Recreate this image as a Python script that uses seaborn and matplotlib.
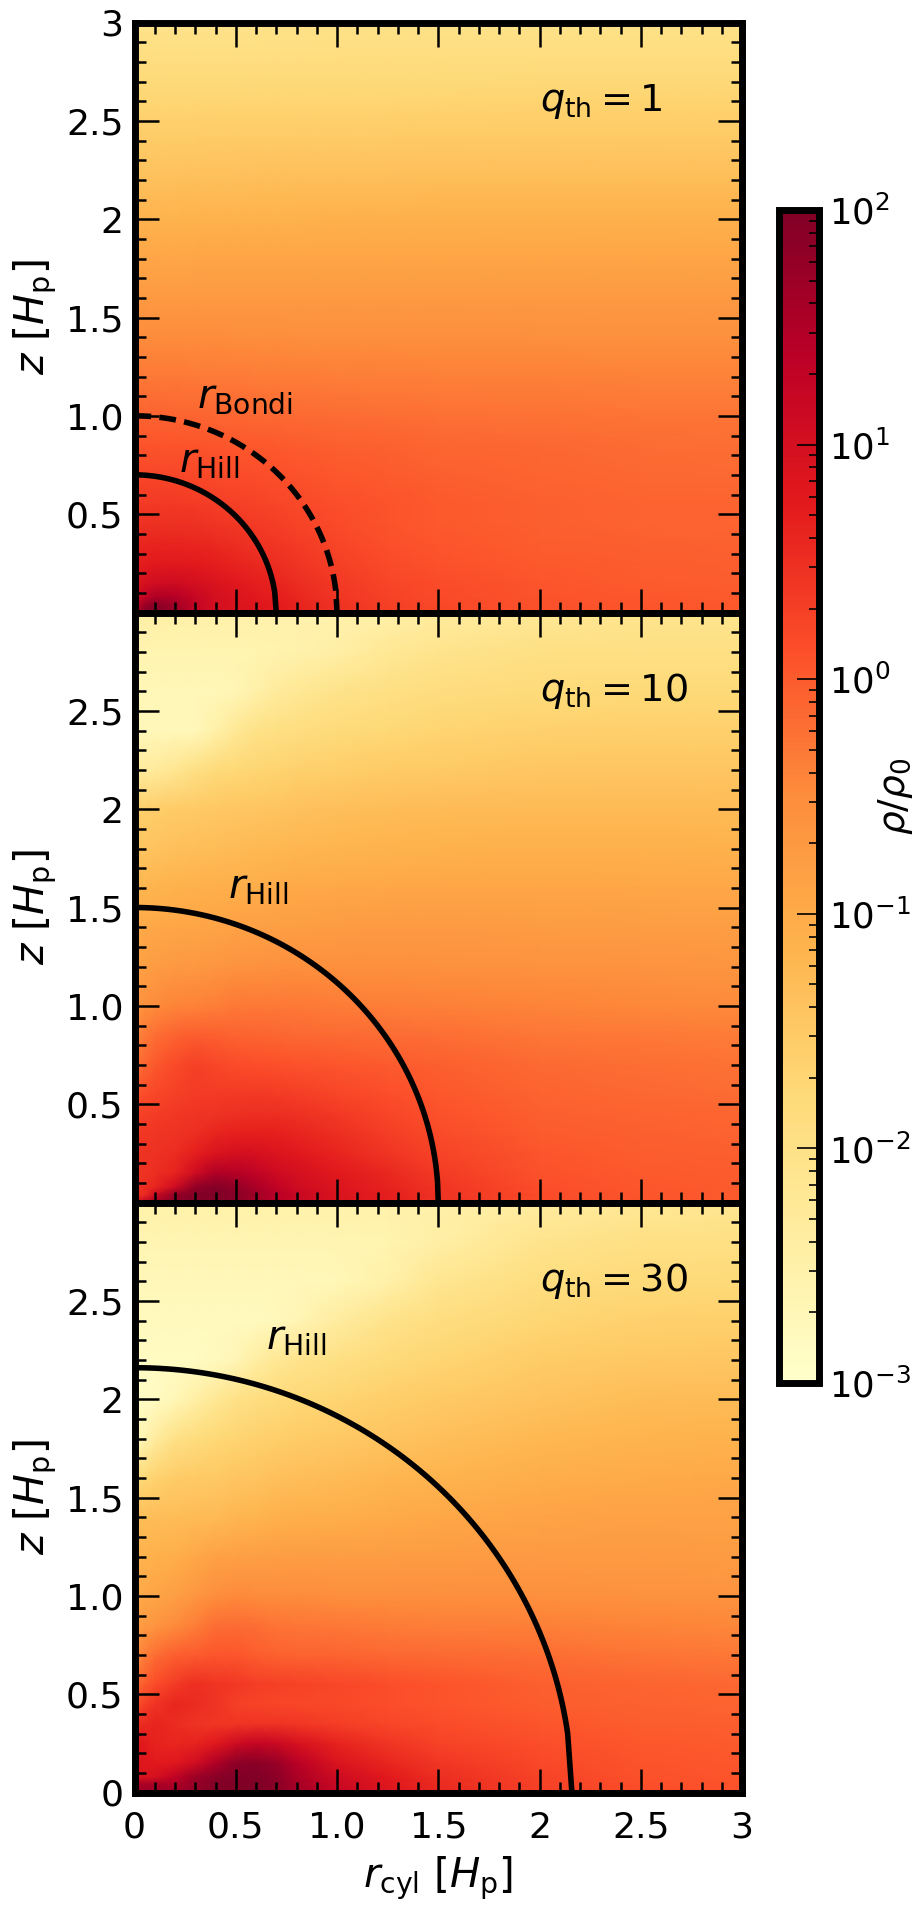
"""
Gas density around an embedded planet, three thermal mass ratios stacked,
shared log colorbar on the right.
"""

import numpy as np
import matplotlib
matplotlib.use("Agg")
import matplotlib.pyplot as plt
import seaborn as sns

# sampling of the density maps, values below are log10(rho/rho0)
r_grid = [0, .05, .1, .2, .3, .4, .5, .6, .7, .8, 1.0, 1.25, 1.5, 2.0, 2.5, 3.0]
z_grid = [0, .04, .08, .15, .25, .35, .45, .55, .7, .85, 1.0, 1.2, 1.4, 1.6, 1.8,
          2.0, 2.2, 2.4, 2.6, 2.8, 3.0]

log_rho_q1 = [
    [1.3, 1.9, 2.0, 1.7, 1.25, 1.0, .9, .82, .75, .65, .45, .3, .2, .1, .05, .02],
    [1.2, 1.7, 1.9, 1.65, 1.25, 1.0, .9, .82, .75, .65, .45, .3, .2, .1, .05, .02],
    [1.0, 1.25, 1.5, 1.45, 1.2, 1.0, .88, .78, .7, .6, .4, .27, .18, .08, .03, 0],
    [.85, .95, 1.05, 1.1, 1.0, .9, .8, .7, .62, .53, .36, .24, .15, .05, 0, -.02],
    [.7, .72, .75, .78, .76, .7, .63, .57, .5, .43, .3, .18, .1, .02, -.02, -.05],
    [.6, .6, .62, .62, .6, .56, .5, .45, .4, .34, .24, .12, .05, -.02, -.05, -.07],
    [.47, .47, .48, .48, .46, .43, .38, .35, .31, .26, .18, .08, .02, -.04, -.08, -.1],
    [.37, .37, .37, .37, .35, .32, .3, .27, .24, .2, .14, .07, .02, -.04, -.08, -.1],
    [.22, .22, .22, .21, .2, .18, .16, .14, .12, .09, .04, -.01, -.04, -.09, -.13, -.15],
    [.08, .08, .08, .08, .07, .06, .04, .03, .01, -.01, -.04, -.07, -.11, -.14, -.18, -.2],
    [-.08, -.08, -.08, -.09, -.1, -.11, -.12, -.13, -.14, -.15, -.17, -.19, -.21, -.23, -.25, -.26],
    [-.29, -.29, -.3, -.3, -.31, -.31, -.32, -.33, -.33, -.34, -.35, -.36, -.37, -.38, -.39, -.4],
    [-.49, -.49, -.49, -.5, -.5, -.5, -.51, -.51, -.51, -.52, -.52, -.53, -.53, -.54, -.55, -.55],
    [-.7, -.7, -.7, -.7, -.7, -.7, -.7, -.7, -.7, -.7, -.7, -.7, -.7, -.71, -.71, -.71],
    [-.92, -.92, -.92, -.92, -.92, -.91, -.91, -.91, -.91, -.9, -.9, -.9, -.9, -.9, -.9, -.9],
    [-1.13, -1.13, -1.13, -1.13, -1.12, -1.12, -1.12, -1.11, -1.11, -1.11, -1.1, -1.1, -1.09, -1.09, -1.09, -1.09],
    [-1.34, -1.34, -1.34, -1.34, -1.33, -1.33, -1.33, -1.32, -1.32, -1.32, -1.31, -1.31, -1.3, -1.3, -1.3, -1.3],
    [-1.52, -1.52, -1.52, -1.52, -1.52, -1.51, -1.51, -1.51, -1.5, -1.5, -1.5, -1.5, -1.49, -1.49, -1.49, -1.49],
    [-1.7, -1.7, -1.7, -1.7, -1.7, -1.7, -1.7, -1.69, -1.69, -1.69, -1.68, -1.68, -1.68, -1.67, -1.67, -1.67],
    [-1.88, -1.88, -1.88, -1.88, -1.88, -1.88, -1.87, -1.87, -1.87, -1.87, -1.86, -1.86, -1.86, -1.85, -1.85, -1.85],
    [-2.05, -2.05, -2.05, -2.05, -2.05, -2.05, -2.05, -2.05, -2.04, -2.04, -2.04, -2.03, -2.03, -2.03, -2.02, -2.02],
]

log_rho_q10 = [
    [.8, 1.3, 1.6, 1.85, 1.95, 1.95, 1.85, 1.6, 1.35, 1.15, .9, .7, .45, .15, .05, 0],
    [.45, .55, 1.1, 1.8, 1.95, 2.0, 1.9, 1.65, 1.4, 1.2, .9, .7, .45, .15, .05, 0],
    [.45, .5, .6, 1.1, 1.8, 1.95, 1.8, 1.55, 1.3, 1.1, .85, .65, .42, .13, .04, 0],
    [.45, .45, .5, .65, 1.1, 1.5, 1.45, 1.3, 1.12, 1.0, .78, .58, .35, .1, .02, -.02],
    [.42, .44, .46, .52, .7, .9, 1.0, .95, .88, .8, .62, .42, .25, .05, -.02, -.05],
    [.38, .4, .42, .45, .5, .62, .68, .7, .68, .62, .5, .32, .18, 0, -.05, -.08],
    [.25, .3, .33, .38, .42, .45, .48, .5, .5, .46, .36, .24, .1, -.04, -.08, -.12],
    [.05, .15, .22, .3, .35, .35, .36, .36, .35, .32, .24, .14, .04, -.08, -.13, -.17],
    [-.25, -.1, .02, .18, .3, .22, .16, .14, .12, .1, .05, 0, -.05, -.16, -.2, -.24],
    [-.45, -.3, -.2, -.08, -.03, -.05, -.08, -.1, -.12, -.13, -.15, -.17, -.2, -.27, -.3, -.33],
    [-.68, -.55, -.5, -.42, -.4, -.35, -.3, -.3, -.3, -.3, -.33, -.35, -.37, -.42, -.45, -.47],
    [-.85, -.8, -.75, -.7, -.68, -.65, -.6, -.58, -.56, -.55, -.55, -.55, -.56, -.58, -.6, -.62],
    [-1.0, -.98, -.95, -.92, -.9, -.88, -.85, -.83, -.8, -.78, -.75, -.73, -.73, -.74, -.76, -.78],
    [-1.2, -1.18, -1.16, -1.12, -1.1, -1.08, -1.05, -1.03, -1.0, -.98, -.96, -.93, -.92, -.92, -.93, -.95],
    [-1.42, -1.4, -1.38, -1.34, -1.32, -1.3, -1.27, -1.24, -1.22, -1.2, -1.17, -1.14, -1.12, -1.1, -1.1, -1.11],
    [-1.6, -1.58, -1.56, -1.53, -1.5, -1.47, -1.44, -1.42, -1.4, -1.37, -1.33, -1.3, -1.27, -1.25, -1.25, -1.27],
    [-2.3, -2.3, -2.3, -2.15, -1.95, -1.8, -1.74, -1.7, -1.66, -1.62, -1.58, -1.52, -1.5, -1.45, -1.43, -1.43],
    [-2.72, -2.72, -2.72, -2.72, -2.72, -2.5, -2.2, -2.02, -1.95, -1.9, -1.8, -1.75, -1.68, -1.62, -1.6, -1.6],
    [-2.7, -2.7, -2.7, -2.7, -2.7, -2.7, -2.65, -2.5, -2.3, -2.2, -2.05, -1.95, -1.88, -1.8, -1.77, -1.77],
    [-2.6, -2.6, -2.6, -2.6, -2.6, -2.6, -2.6, -2.6, -2.58, -2.55, -2.45, -2.2, -2.1, -1.98, -1.95, -1.95],
    [-2.45, -2.45, -2.45, -2.47, -2.48, -2.5, -2.5, -2.52, -2.53, -2.55, -2.55, -2.5, -2.35, -2.2, -2.12, -2.1],
]

log_rho_q30 = [
    [1.55, 1.6, 1.65, 1.7, 1.75, 1.95, 2.0, 2.0, 1.9, 1.6, 1.2, .85, .6, .3, .15, .1],
    [1.55, 1.6, 1.6, 1.5, 1.75, 1.95, 2.0, 2.0, 1.9, 1.6, 1.15, .8, .55, .28, .12, .08],
    [.9, .9, .95, 1.3, 1.7, 1.9, 1.98, 1.98, 1.85, 1.55, 1.1, .75, .5, .25, .1, .06],
    [.85, .8, .75, .8, 1.05, 1.5, 1.85, 1.9, 1.75, 1.4, .9, .6, .4, .2, .08, .03],
    [.8, .75, .65, .6, .65, .8, 1.1, 1.25, 1.15, .95, .65, .42, .28, .13, .04, 0],
    [.5, .55, .62, .55, .45, .4, .42, .45, .45, .4, .32, .22, .15, .05, -.02, -.05],
    [.1, .3, .45, .6, .55, .45, .3, .25, .22, .22, .2, .13, .07, -.02, -.07, -.1],
    [-.2, 0, .15, .35, .5, .42, .38, .32, .3, .28, .22, .14, .08, -.04, -.1, -.14],
    [-.55, -.35, -.2, -.05, 0, .05, .05, -.02, -.06, -.08, -.1, -.13, -.15, -.2, -.25, -.3],
    [-.85, -.7, -.65, -.5, -.35, -.2, -.17, -.2, -.25, -.28, -.3, -.33, -.35, -.38, -.42, -.45],
    [-1.0, -.95, -.9, -.8, -.65, -.52, -.48, -.5, -.5, -.5, -.52, -.53, -.53, -.55, -.58, -.6],
    [-1.15, -1.12, -1.1, -1.05, -.95, -.85, -.82, -.8, -.78, -.76, -.76, -.76, -.75, -.72, -.72, -.74],
    [-1.3, -1.3, -1.3, -1.3, -1.28, -1.25, -1.2, -1.15, -1.1, -1.08, -1.05, -1.0, -.95, -.88, -.85, -.85],
    [-1.85, -1.75, -1.65, -1.55, -1.5, -1.48, -1.43, -1.4, -1.35, -1.32, -1.27, -1.2, -1.15, -1.05, -1.0, -.98],
    [-2.8, -2.6, -2.35, -2.0, -1.85, -1.75, -1.68, -1.62, -1.58, -1.55, -1.48, -1.4, -1.33, -1.22, -1.15, -1.12],
    [-2.9, -2.9, -2.85, -2.7, -2.45, -2.2, -2.0, -1.9, -1.82, -1.76, -1.68, -1.58, -1.5, -1.38, -1.3, -1.28],
    [-2.85, -2.85, -2.85, -2.85, -2.85, -2.8, -2.65, -2.4, -2.2, -2.1, -1.95, -1.8, -1.7, -1.55, -1.47, -1.45],
    [-2.8, -2.8, -2.8, -2.8, -2.8, -2.8, -2.8, -2.8, -2.75, -2.65, -2.35, -2.05, -1.9, -1.72, -1.62, -1.6],
    [-2.72, -2.72, -2.72, -2.72, -2.72, -2.72, -2.72, -2.72, -2.72, -2.72, -2.7, -2.5, -2.15, -1.9, -1.8, -1.78],
    [-2.62, -2.62, -2.62, -2.62, -2.62, -2.62, -2.62, -2.62, -2.62, -2.62, -2.62, -2.6, -2.45, -2.1, -1.98, -1.95],
    [-2.5, -2.5, -2.5, -2.5, -2.5, -2.5, -2.5, -2.5, -2.5, -2.52, -2.52, -2.52, -2.5, -2.35, -2.2, -2.15],
]

panel_fields = [log_rho_q1, log_rho_q10, log_rho_q30]
panel_labels = [r"$q_{\rm th} = 1$", r"$q_{\rm th} = 10$", r"$q_{\rm th} = 30$"]

# radii of the marked spheres, the height where the last line segment starts
hill_radius = [0.7, 1.5, 2.16]
bondi_radius = 1.0
kink_height = [0.1, 0.1, 0.3]

x_ticks = [0, .5, 1, 1.5, 2, 2.5, 3]
x_ticklabels = ["0", "0.5", "1.0", "1.5", "2", "2.5", "3"]
y_ticks = [[.5, 1, 1.5, 2, 2.5, 3], [.5, 1, 1.5, 2, 2.5], [0, .5, 1, 1.5, 2, 2.5]]
y_ticklabels = [["0.5", "1.0", "1.5", "2", "2.5", "3"],
                ["0.5", "1.0", "1.5", "2", "2.5"],
                ["0", "0.5", "1.0", "1.5", "2", "2.5"]]
minor_ticks = [.1, .2, .3, .4, .6, .7, .8, .9, 1.1, 1.2, 1.3, 1.4, 1.6, 1.7, 1.8, 1.9,
               2.1, 2.2, 2.3, 2.4, 2.6, 2.7, 2.8, 2.9]

cbar_exponents = [-3, -2, -1, 0, 1, 2]

W, H = 914, 1909
SPINE = 5.0


def quarter_circle(radius, kink):
    # arc from the z axis down, closed by one straight piece to the midplane
    end = np.arcsin(kink / radius)
    theta = np.append(np.linspace(np.pi / 2, end, 120), 0)
    return radius * np.cos(theta), radius * np.sin(theta)


sns.set_style("white")
plt.rcParams["font.family"] = ["DejaVu Sans"]
plt.rcParams["mathtext.fontset"] = "dejavusans"
plt.rcParams["font.size"] = 26
for key in ["text.color", "axes.labelcolor", "xtick.color", "ytick.color"]:
    plt.rcParams[key] = "black"

fig = plt.figure(figsize=(W / 100, H / 100), dpi=100)
cax = fig.add_axes([779 / W, 1 - 1383 / H, 40 / W, 1173 / H])
cbar = None

for i, field in enumerate(panel_fields):
    top = 22.5 + i * 590
    ax = fig.add_axes([134.5 / W, 1 - (top + 590) / H, 607.5 / W, 590 / H])
    sns.heatmap(
        np.array(field),
        ax=ax,
        cmap="YlOrRd",
        vmin=-3,
        vmax=2,
        shading="gouraud",
        xticklabels=False,
        yticklabels=False,
        cbar=i == 0,
        cbar_ax=cax if i == 0 else None,
    )
    mesh = ax.collections[0]
    if i == 0:
        cbar = mesh.colorbar
    # the grid is not uniform, so put the nodes at their real positions
    mesh._coordinates = np.stack(np.meshgrid(r_grid, z_grid), axis=-1)
    ax.set_xlim(0, 3)
    ax.set_ylim(0, 3)
    ax.set_axisbelow(False)

    ax.set_xticks(x_ticks)
    ax.set_xticklabels(x_ticklabels if i == 2 else [])
    ax.set_yticks(y_ticks[i])
    ax.set_yticklabels(y_ticklabels[i], rotation=0)
    ax.set_xticks(minor_ticks, minor=True)
    ax.set_yticks(minor_ticks, minor=True)
    ax.tick_params(which="major", direction="in", length=17, width=1.8, top=True, right=True,
                   bottom=True, left=True, labelsize=26, pad=8, color="black")
    ax.tick_params(which="minor", direction="in", length=8, width=1.8, top=True, right=True,
                   bottom=True, left=True, color="black")
    ax.tick_params(axis="x", which="major", pad=13)
    for spine in ax.spines.values():
        spine.set_visible(True)
        spine.set_linewidth(SPINE)
        spine.set_color("black")

    x, z = quarter_circle(hill_radius[i], kink_height[i])
    ax.plot(x, z, color="black", lw=4.0)
    ax.text(2.0, 2.6, panel_labels[i], fontsize=27.5, va="center", ha="left")
    ax.set_ylabel(r"$z\ [H_{\rm p}]$", fontsize=29.5)
    ax.yaxis.set_label_coords(-0.125, 0.5)

    if i == 0:
        x, z = quarter_circle(bondi_radius, kink_height[i])
        ax.plot(x, z, color="black", lw=4.0, ls=(0, (3.0, 1.5)))
        ax.text(0.31, 1.1, r"$r_{\rm Bondi}$", fontsize=29, va="center", ha="left")
        ax.text(0.22, 0.77, r"$r_{\rm Hill}$", fontsize=29, va="center", ha="left")
    elif i == 1:
        ax.text(0.46, 1.6, r"$r_{\rm Hill}$", fontsize=29, va="center", ha="left")
    else:
        ax.text(0.65, 2.31, r"$r_{\rm Hill}$", fontsize=29, va="center", ha="left")
        ax.set_xlabel(r"$r_{\rm cyl}\ [H_{\rm p}]$", fontsize=29, labelpad=7)

# colorbar
cbar.outline.set_visible(True)
cbar.outline.set_linewidth(SPINE)
cbar.outline.set_edgecolor("black")
cbar.set_ticks(cbar_exponents)
cbar.set_ticklabels([f"$10^{{{e}}}$" for e in cbar_exponents])
cbar_minor = [e + np.log10(m) for e in cbar_exponents[:-1] for m in range(2, 10)]
cax.set_yticks(cbar_minor, minor=True)
cax.set_axisbelow(False)
cax.tick_params(which="major", direction="in", length=16, width=1.2, right=True, labelsize=25.5, pad=7, color="black")
cax.tick_params(which="minor", direction="in", length=7, width=1.2, right=True, color="black")
cbar.set_label(r"$\rho/\rho_0$", fontsize=27)
cax.yaxis.set_label_coords(2.42, 0.5)

fig.savefig("out.png", dpi=100)
plt.close(fig)
